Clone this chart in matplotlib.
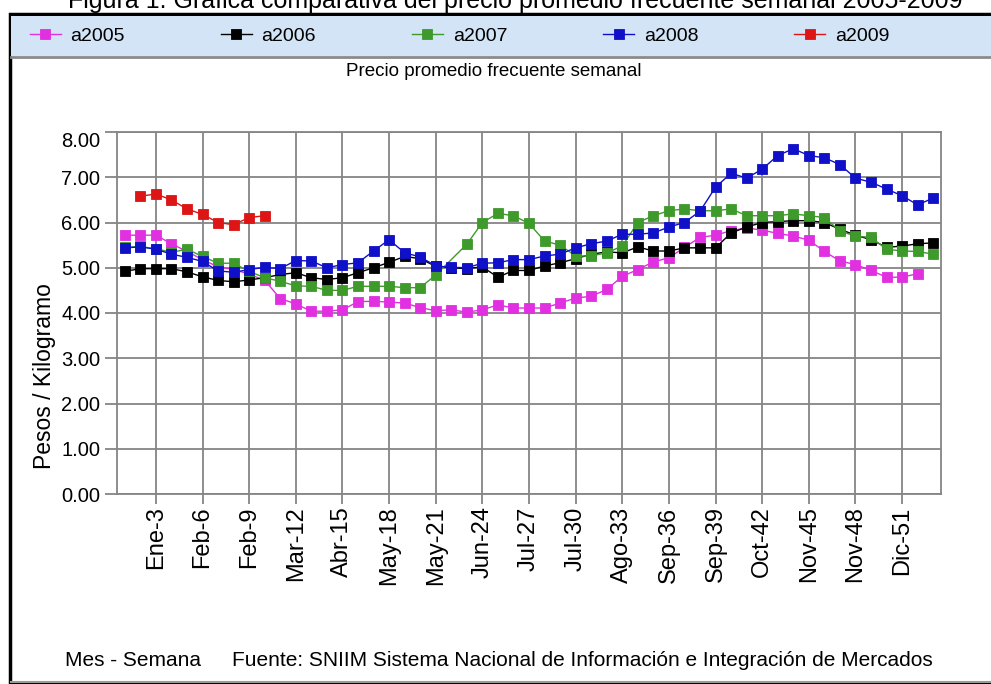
import matplotlib.pyplot as plt
import numpy as np
from matplotlib.patches import Rectangle
from matplotlib.lines import Line2D

plt.rcParams['font.family'] = ['Liberation Sans', 'DejaVu Sans']

# semanas del año (categorias del eje x)
weeks = np.arange(1, 54)
tick_weeks = [3, 6, 9, 12, 15, 18, 21, 24, 27, 30, 33, 36, 39, 42, 45, 48, 51]
tick_labels = ['Ene-3', 'Feb-6', 'Feb-9', 'Mar-12', 'Abr-15', 'May-18', 'May-21',
               'Jun-24', 'Jul-27', 'Jul-30', 'Ago-33', 'Sep-36', 'Sep-39',
               'Oct-42', 'Nov-45', 'Nov-48', 'Dic-51']

# precios (pesos / kg), semana 1 en adelante
a2005 = [5.72, 5.72, 5.72, 5.53, 5.36, 5.18, 5.02, 4.96, 4.86, 4.72,
         4.32, 4.20, 4.04, 4.04, 4.07, 4.25, 4.26, 4.24, 4.22, 4.12,
         4.05, 4.07, 4.02, 4.07, 4.18, 4.11, 4.11, 4.11, 4.22, 4.33,
         4.37, 4.52, 4.81, 4.96, 5.13, 5.22, 5.45, 5.67, 5.72, 5.82,
         5.88, 5.83, 5.76, 5.70, 5.61, 5.36, 5.15, 5.07, 4.94, 4.79,
         4.79, 4.87]
a2006 = [4.92, 4.98, 4.98, 4.98, 4.91, 4.80, 4.72, 4.69, 4.73, 4.78,
         4.85, 4.89, 4.78, 4.74, 4.78, 4.89, 5.00, 5.12, 5.25, 5.20,
         5.03, 5.00, 4.98, 5.02, 4.79, 4.94, 4.94, 5.04, 5.11, 5.20,
         5.30, 5.35, 5.33, 5.46, 5.37, 5.37, 5.44, 5.44, 5.44, 5.77,
         5.90, 6.00, 6.02, 6.04, 6.04, 6.00, 5.85, 5.72, 5.62, 5.45,
         5.48, 5.53, 5.55]
a2007 = [5.45, 5.47, 5.42, 5.34, 5.41, 5.25, 5.10, 5.10, 4.92, 4.78,
         4.70, 4.60, 4.59, 4.50, 4.50, 4.59, 4.59, 4.59, 4.56, 4.56,
         4.84, np.nan, 5.52, 6.00, 6.20, 6.15, 5.98, 5.59, 5.50, 5.26,
         5.26, 5.33, 5.48, 6.00, 6.15, 6.26, 6.30, 6.26, 6.26, 6.30,
         6.15, 6.15, 6.15, 6.19, 6.15, 6.11, 5.81, 5.70, 5.67, 5.41,
         5.37, 5.36, 5.30]
a2008 = [5.44, 5.46, 5.41, 5.30, 5.23, 5.14, 4.93, 4.90, 4.96, 5.01,
         4.98, 5.16, 5.15, 5.00, 5.07, 5.11, 5.37, 5.62, 5.33, 5.24,
         5.04, 5.01, 5.00, 5.10, 5.11, 5.18, 5.18, 5.26, 5.30, 5.44,
         5.53, 5.59, 5.74, 5.74, 5.77, 5.90, 6.00, 6.25, 6.78, 7.09,
         6.98, 7.18, 7.48, 7.63, 7.48, 7.43, 7.28, 6.98, 6.89, 6.74,
         6.59, 6.39, 6.54]
a2009_weeks = [2, 3, 4, 5, 6, 7, 8, 9, 10]
a2009 = [6.58, 6.63, 6.50, 6.30, 6.18, 6.00, 5.95, 6.11, 6.15]

series = [
    ('a2005', weeks[:len(a2005)], a2005, '#e030e0'),
    ('a2006', weeks[:len(a2006)], a2006, '#000000'),
    ('a2007', weeks[:len(a2007)], a2007, '#3f9a2c'),
    ('a2008', weeks[:len(a2008)], a2008, '#1010c8'),
    ('a2009', np.array(a2009_weeks), a2009, '#dd1515'),
]

W, H = 991, 684
fig = plt.figure(figsize=(W / 100, H / 100), dpi=100)

# marco y franja de la leyenda (detras de los ejes)
fig.add_artist(Rectangle((10 / W, 0), 1, 1 - 14 / H, transform=fig.transFigure,
                         facecolor='white', edgecolor='black', lw=2.5, zorder=-10))
fig.add_artist(Rectangle((11 / W, 1 - 56 / H), 1, 40 / H, transform=fig.transFigure,
                         facecolor='#d3e4f6', edgecolor='none', zorder=-9))
fig.add_artist(Line2D([11 / W, 1], [1 - 57 / H] * 2, transform=fig.transFigure,
                      color='#8a8a8a', lw=2, zorder=-8))
fig.add_artist(Line2D([11 / W, 1], [2 / H] * 2, transform=fig.transFigure,
                      color='#9a9a9a', lw=1.5, zorder=-8))

# titulo recortado arriba
fig.text(0.52, 1 - 8 / H, 'Figura 1. Gráfica comparativa del precio promedio frecuente semanal 2005-2009',
         ha='center', va='baseline', fontsize=18)

ax = fig.add_axes([117 / W, 1 - 494 / H, (941 - 117) / W, (494 - 132) / H])
for name, x, y, c in series:
    y = np.array(y, dtype=float)
    ok = ~np.isnan(y)
    ax.plot(x[ok], y[ok], color=c, lw=1.0, marker='s', markersize=6.5,
            markeredgecolor=c, markeredgewidth=0.6, label=name)

ax.set_xlim(0.5, 53.5)
ax.set_ylim(0, 8)
ax.set_yticks(np.arange(0, 9))
ax.set_yticklabels(['%.2f' % v for v in np.arange(0, 9)])
ax.set_xticks(tick_weeks)
ax.set_xticklabels(tick_labels, rotation=90)
ax.grid(True, color='#858585', lw=1.3)
ax.set_axisbelow(True)
for s in ax.spines.values():
    s.set_color('#858585')
    s.set_linewidth(1.3)
ax.tick_params(axis='y', length=9, width=1.3, color='#858585', labelsize=14.5, pad=3)
ax.tick_params(axis='x', length=7, width=1.3, color='#858585', labelsize=17, pad=2)
ax.get_yticklabels()[-1].set_verticalalignment('top')

fig.text(494 / W, 1 - 72 / H, 'Precio promedio frecuente semanal', ha='center', va='center',
         fontsize=13.5)
fig.text(45 / W, 1 - 376 / H, 'Pesos / Kilogramo', rotation=90, ha='center', va='center',
         fontsize=16.5)
fig.text(65 / W, 1 - 660 / H, 'Mes - Semana', ha='left', va='center', fontsize=15)
fig.text(232 / W, 1 - 660 / H,
         'Fuente: SNIIM Sistema Nacional de Información e Integración de Mercados',
         ha='left', va='center', fontsize=15)

handles, labels = ax.get_legend_handles_labels()
fig.legend(handles, labels, ncol=5, loc='center left', mode='expand',
           bbox_to_anchor=(12 / W, 1 - 36 / H, 895 / W, 0), frameon=False,
           fontsize=14, handlelength=1.6, handletextpad=0.5)

fig.savefig('out.png', dpi=100)
